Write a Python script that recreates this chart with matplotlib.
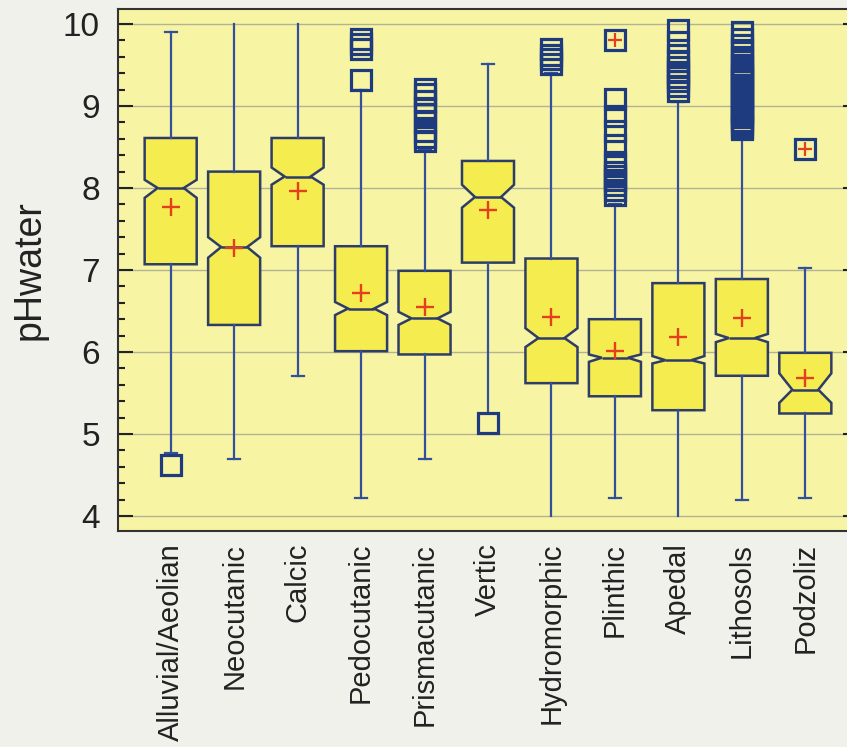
import numpy as np
import matplotlib
matplotlib.use("Agg")
from matplotlib import pyplot as plt
from matplotlib.ticker import MultipleLocator

plt.rcParams['font.family'] = ['Liberation Sans', 'DejaVu Sans']

categories = ['Alluvial/Aeolian', 'Neocutanic', 'Calcic', 'Pedocutanic', 'Prismacutanic',
              'Vertic', 'Hydromorphic', 'Plinthic', 'Apedal', 'Lithosols', 'Podzoliz']

q1 = [7.07, 6.33, 7.29, 6.01, 5.97, 7.09, 5.62, 5.46, 5.29, 5.71, 5.25]
median = [8.00, 7.28, 8.14, 6.53, 6.41, 7.89, 6.17, 5.93, 5.90, 6.17, 5.54]
q3 = [8.61, 8.20, 8.61, 7.29, 6.99, 8.33, 7.14, 6.40, 6.84, 6.89, 5.99]
mean = [7.77, 7.27, 7.96, 6.72, 6.55, 7.73, 6.43, 6.01, 6.18, 6.41, 5.68]
whisker_low = [4.77, 4.70, 5.71, 4.22, 4.70, 5.26, 4.00, 4.22, 4.00, 4.20, 4.22]
whisker_high = [9.90, 10.00, 10.00, 9.20, 8.46, 9.51, 9.40, 7.80, 9.05, 8.60, 7.03]
notch_low = [7.88, 7.15, 8.04, 6.45, 6.33, 7.76, 6.06, 5.88, 5.86, 6.12, 5.38]
notch_high = [8.10, 7.40, 8.25, 6.61, 6.49, 8.04, 6.29, 5.97, 5.95, 6.22, 5.74]

outliers = [
    [4.62],
    [],
    [],
    [9.82, 9.76, 9.70, 9.32],
    [9.21, 9.15, 9.06, 8.97, 8.90, 8.80, 8.70, 8.62, 8.57],
    [5.13],
    [9.69, 9.62, 9.57, 9.51],
    [9.09, 8.88, 8.69, 8.52, 8.32, 8.27, 8.20, 8.15, 8.10, 8.04, 7.98, 7.92],
    [9.93, 9.78, 9.62, 9.55, 9.48, 9.42, 9.35, 9.30, 9.25, 9.18],
    [9.90, 9.82, 9.75, 9.68, 9.60, 9.55, 9.50, 9.46, 9.42, 9.38, 9.34, 9.30, 9.26,
     9.22, 9.18, 9.14, 9.10, 9.06, 9.02, 8.98, 8.94, 8.90, 8.86, 8.82, 8.78, 8.75, 8.72],
    [],
]
far_outliers = [[], [], [], [], [], [], [], [9.80], [], [], [8.47]]

positions = np.arange(1, len(categories) + 1)

stats = []
for i, name in enumerate(categories):
    stats.append(dict(label=name, q1=q1[i], med=median[i], q3=q3[i], mean=mean[i],
                      whislo=whisker_low[i], whishi=whisker_high[i],
                      cilo=notch_low[i], cihi=notch_high[i],
                      fliers=np.array(outliers[i])))

edge = '#2e3d68'
blue = '#33509c'
navy = '#1f3b80'
red = '#e4401e'

fig = plt.figure(figsize=(8.47, 7.47), dpi=100)
fig.patch.set_facecolor('#f1f1ec')
ax = fig.add_axes([118 / 847, 216 / 747, 740 / 847, 522 / 747])
ax.set_facecolor('#f7f4a4')

res = ax.bxp(stats, positions=positions, widths=0.82, capwidths=0.19,
             shownotches=True, showmeans=True, patch_artist=True,
             boxprops=dict(facecolor='#f5ec50', edgecolor=edge, linewidth=1.8),
             medianprops=dict(color=edge, linewidth=1.8),
             whiskerprops=dict(color=blue, linewidth=1.6),
             capprops=dict(color=blue, linewidth=1.6),
             flierprops=dict(marker='s', markersize=14.5, markerfacecolor='none',
                             markeredgecolor=navy, markeredgewidth=2.3),
             meanprops=dict(marker='+', markersize=13, markeredgecolor=red,
                            markeredgewidth=1.7))

# caps that are not visible in the original
for idx in [3, 5, 10, 12, 16]:
    res['caps'][idx].set_visible(False)

for i, vals in enumerate(far_outliers):
    if vals:
        xs = [positions[i]] * len(vals)
        ax.plot(xs, vals, linestyle='none', marker='s', markersize=14.5,
                markerfacecolor='none', markeredgecolor=navy, markeredgewidth=2.3, zorder=4)
        ax.plot(xs, vals, linestyle='none', marker='+', markersize=10,
                markeredgecolor=red, markeredgewidth=1.6, zorder=5)

ax.set_xlim(0.17, 11.83)
ax.set_ylim(3.817, 10.183)
ax.yaxis.set_major_locator(MultipleLocator(1))
ax.yaxis.set_minor_locator(MultipleLocator(0.2))
ax.grid(axis='y', which='major', color='#b4b294', linewidth=1.0)
ax.set_axisbelow(True)

ax.tick_params(axis='y', which='major', direction='in', length=10.8, width=1.5,
               left=True, right=True, labelsize=24, pad=13, colors='#222222')
ax.tick_params(axis='y', which='minor', direction='in', length=5, width=1.5,
               left=True, right=True, colors='#222222')
ax.tick_params(axis='x', length=0, pad=8.6, labelsize=21, labelrotation=90,
               colors='#222222')
ax.set_xticks(positions)
ax.set_xticklabels(categories)
for spine in ax.spines.values():
    spine.set_color('#333333')
    spine.set_linewidth(1.5)

ax.set_ylabel('pHwater', fontsize=27, color='#222222')
ax.yaxis.set_label_coords(-0.095, 0.5)

fig.savefig('out.png', dpi=100, facecolor=fig.get_facecolor())
